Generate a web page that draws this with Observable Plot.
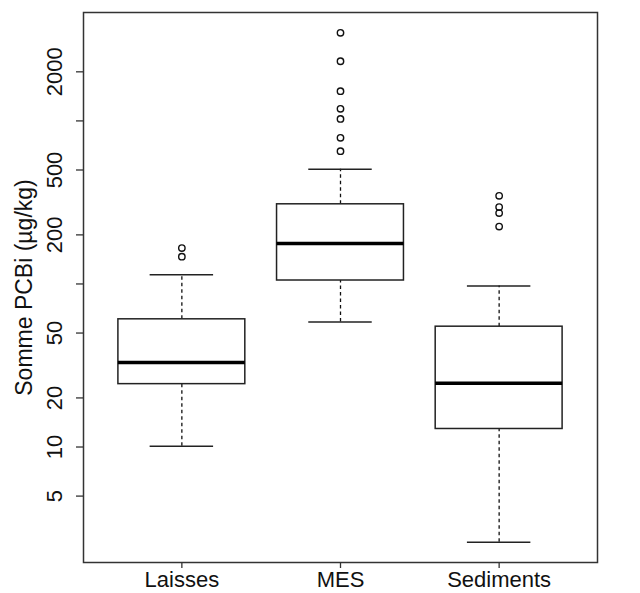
<!DOCTYPE html>
<html>
<head>
<meta charset="utf-8">
<script src="https://cdn.jsdelivr.net/npm/d3@7"></script>
<script src="https://cdn.jsdelivr.net/npm/@observablehq/plot@0.6"></script>
<style>
  html, body { margin: 0; padding: 0; background: #fff; }
  #chart svg { display: block; }
</style>
</head>
<body>
<div id="chart"></div>
<script>
// ---- data ----
const categories = ["Laisses", "MES", "Sediments"];
const lowerWhisker = [10.1, 58.4, 2.61];
const q1 = [24.3, 105, 12.9];
const median = [33, 177, 24.6];
const q3 = [60.7, 308, 54.7];
const upperWhisker = [114, 506, 97];
const outliers = [
  [147, 166],
  [652, 787, 1029, 1186, 1521, 2323, 3467],
  [225, 272, 296, 347]
];
const yTickValues = [5, 10, 20, 50, 100, 200, 500, 1000, 2000];
const yTickLabels = ["5", "10", "20", "50", "", "200", "500", "", "2000"];
const yLabel = "Somme PCBi (µg/kg)";

// ---- build tables ----
const boxes = categories.map((c, i) => ({
  pos: i + 1, cat: c,
  lo: lowerWhisker[i], q1: q1[i], med: median[i], q3: q3[i], hi: upperWhisker[i]
}));
const outPts = outliers.flatMap((arr, i) => arr.map(v => ({pos: i + 1, v})));

// R-style 4% extension of log range
const allVals = [...lowerWhisker, ...upperWhisker, ...outliers.flat()];
const lmin = Math.log10(d3.min(allVals)), lmax = Math.log10(d3.max(allVals));
const ext = 0.04 * (lmax - lmin);
const yDomain = [Math.pow(10, lmin - ext), Math.pow(10, lmax + ext)];
const xDomain = [0.5 - 0.12, categories.length + 0.5 + 0.12];

const font = "'Liberation Sans', Arial, Helvetica, sans-serif";
const dash = "3.5,3";

const chart = Plot.plot({
  width: 640,
  height: 593,
  marginLeft: 83,
  marginRight: 43,
  marginTop: 12,
  marginBottom: 31,
  style: {fontFamily: font, fontSize: "22px", color: "#111", background: "#fff"},
  x: {type: "linear", domain: xDomain},
  y: {type: "log", domain: yDomain},
  marks: [
    // whiskers (dashed)
    Plot.ruleX(boxes, {x: "pos", y1: "q3", y2: "hi", stroke: "#111", strokeWidth: 1.3, strokeDasharray: dash}),
    Plot.ruleX(boxes, {x: "pos", y1: "lo", y2: "q1", stroke: "#111", strokeWidth: 1.3, strokeDasharray: dash}),
    // caps
    Plot.ruleY(boxes, {y: "hi", x1: d => d.pos - 0.2, x2: d => d.pos + 0.2, stroke: "#222", strokeWidth: 1.5}),
    Plot.ruleY(boxes, {y: "lo", x1: d => d.pos - 0.2, x2: d => d.pos + 0.2, stroke: "#222", strokeWidth: 1.5}),
    // boxes
    Plot.rect(boxes, {x1: d => d.pos - 0.4, x2: d => d.pos + 0.4, y1: "q1", y2: "q3", fill: "#fff", stroke: "#222", strokeWidth: 1.5}),
    // medians
    Plot.ruleY(boxes, {y: "med", x1: d => d.pos - 0.4, x2: d => d.pos + 0.4, stroke: "#000", strokeWidth: 3.5}),
    // outliers
    Plot.dot(outPts, {x: "pos", y: "v", r: 3.2, stroke: "#111", strokeWidth: 1.4, fill: "none"}),
    // frame
    Plot.frame({stroke: "#333", strokeWidth: 1.5}),
    // y axis ticks only
    Plot.axisY({ticks: yTickValues, tickSize: 7, tickFormat: () => "", label: null, stroke: "#333", strokeWidth: 1.3}),
    // y tick labels (rotated, R style)
    Plot.text(yTickValues, {
      y: d => d, frameAnchor: "left", text: (d, i) => yTickLabels[i],
      rotate: -90, dx: -29, textAnchor: "middle", lineAnchor: "middle",
      fontSize: 22, fill: "#111"
    }),
    // y axis title
    Plot.text([yLabel], {
      frameAnchor: "left", text: d => d, rotate: -90, dx: -59,
      textAnchor: "middle", lineAnchor: "middle", fontSize: 23, fill: "#111"
    }),
    // x axis
    Plot.axisX({
      ticks: categories.map((c, i) => i + 1),
      tickFormat: d => categories[d - 1],
      tickSize: 6, tickPadding: 3, label: null, stroke: "#333", strokeWidth: 1.3,
      fontSize: 22
    })
  ]
});

document.getElementById("chart").appendChild(chart);
</script>
</body>
</html>
